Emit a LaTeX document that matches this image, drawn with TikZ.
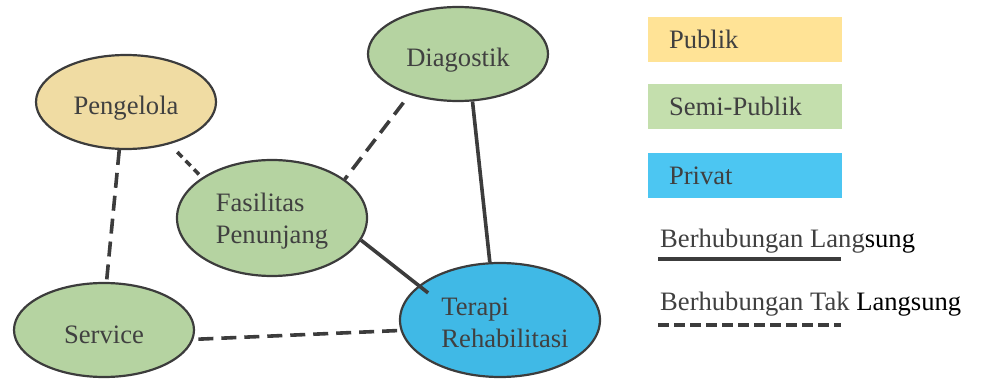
\documentclass[tikz,border=0pt]{standalone}
\usepackage{fontspec}
\setmainfont{Liberation Serif}
\usetikzlibrary{shapes.geometric, positioning}
\definecolor{inktext}{HTML}{404040}
\definecolor{inkline}{HTML}{3C3C3C}
\definecolor{publik}{HTML}{FFE396}
\definecolor{publikzone}{HTML}{F0DCA3}
\definecolor{semipublik}{HTML}{C4DFAD}
\definecolor{semizone}{HTML}{B5D3A1}
\definecolor{privat}{HTML}{4CC6F2}
\definecolor{privatzone}{HTML}{40B9E6}
\newcommand{\bigtext}{\fontsize{26.6}{31.5}\selectfont}
\tikzset{
  zone/.style={ellipse, draw=inkline, line width=2.2pt, minimum width=180pt,
    minimum height=94pt, inner sep=0pt, text=inktext, font=\bigtext},
  oneline/.style={text height=26pt, text depth=0pt},
  keybox/.style={rectangle, minimum height=45pt, inner xsep=21pt, inner ysep=0pt,
    text width=152pt, align=left, text=inktext, font=\bigtext},
  keytext/.style={anchor=base west, inner sep=0pt, text=inktext, font=\bigtext},
  direct/.style={draw=inkline, line width=3.6pt},
  indirect/.style={draw=inkline, line width=3.6pt, dash pattern=on 15pt off 8pt},
}

\begin{document}
\begin{tikzpicture}[x=1pt, y=-1pt]
  \useasboundingbox (0,0) rectangle (982,379);

  % zones
  \node[zone, oneline, fill=publikzone] (peng) at (126,102) {Pengelola};
  \node[zone, oneline, fill=semizone] (diag) at (458,54) {Diagostik};
  \node[zone, fill=semizone, minimum width=190pt, minimum height=116pt,
    align=left] (fas) at (272,218) {\rule{0pt}{25pt}Fasilitas\\Penunjang};
  \node[zone, oneline, fill=semizone] (serv) at (104,330) {Service};
  \node[zone, fill=privatzone, minimum width=200pt, minimum height=114pt] (ter) at (500,320) {};
  \node[text=inktext, font=\bigtext, align=left, inner sep=0pt]
    at ([xshift=5pt, yshift=-3pt]ter.center) {Terapi\\Rehabilitasi};

  % links
  \draw[indirect] (peng.262) -- (serv.87);
  \draw[indirect, dash pattern=on 7pt off 5pt, shorten <=11pt] (peng.316) -- (fas.150);
  \draw[indirect, shorten <=10pt] (diag.220) -- (fas.28);
  \draw[direct] (diag.287) -- (ter.100);
  \draw[direct, shorten >=-12pt] (fas.346) -- (ter.157);
  \draw[indirect, shorten <=5pt] (serv.354) -- (ter.186);

  % legend
  \node[keybox, fill=publik] (kpub) at (745,39.5) {Publik};
  \node[keybox, fill=semipublik] (ksemi) at (745,106.5) {Semi-Publik};
  \node[keybox, fill=privat] (kpriv) at (745,175.5) {Privat};

  \node[keytext] (kdirect) at (660,248) {Berhubungan Lang\textcolor{black}{sung}};
  \coordinate (dstart) at (658,259);
  \coordinate (dend) at (841,259);
  \draw[direct, line width=3.4pt] (dstart) -- (dend);

  \node[keytext] (kindirect) at (660,310) {Berhubungan Tak \textcolor{black}{Langsung}};
  \coordinate (istart) at (658,325);
  \coordinate (iend) at (841,325);
  \draw[indirect, line width=3.4pt, dash pattern=on 11pt off 5pt] (istart) -- (iend);
\end{tikzpicture}
\end{document}
